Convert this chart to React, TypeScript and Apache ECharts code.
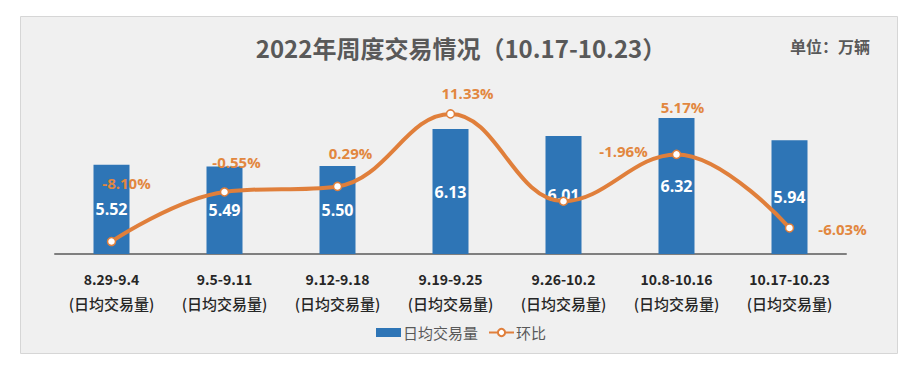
import React, { useEffect, useRef } from "react";
import * as echarts from "echarts";

const categories = ["8.29-9.4", "9.5-9.11", "9.12-9.18", "9.19-9.25", "9.26-10.2", "10.8-10.16", "10.17-10.23"];
const dailyVolume = [5.52, 5.49, 5.5, 6.13, 6.01, 6.32, 5.94];
const momChange = [-8.1, -0.55, 0.29, 11.33, -1.96, 5.17, -6.03];
const labelOffsets = [[15, -59], [12, -30], [13, -33], [17, -21], [60, -50], [6, -47], [53, 1]];

const FONT = "'Open Sans', 'Noto Sans CJK SC', sans-serif";
const CJK = "'Noto Sans CJK SC', sans-serif";
const BLUE = "#2E75B6";
const ORANGE = "#E07F3B";
const LABEL_ORANGE = "#E2873F";

export default function App() {
  const ref = useRef<HTMLDivElement>(null);
  useEffect(() => {
    if (!ref.current) return;
    const chart = echarts.init(ref.current, undefined, { renderer: "svg" });
    chart.setOption({
      animation: false,
      backgroundColor: "#ffffff",
      title: [
        {
          text: "2022年周度交易情况（10.17-10.23）",
          left: "center",
          top: 30,
          textStyle: { fontFamily: CJK, fontSize: 24, fontWeight: "bold", color: "#595959" },
        },
        {
          text: "单位：万辆",
          left: 785,
          top: 33,
          textStyle: { fontFamily: CJK, fontSize: 16, fontWeight: "bold", color: "#595959" },
        },
      ],
      graphic: [
        {
          type: "rect",
          z: -1,
          shape: { x: 20.5, y: 16.5, width: 877, height: 337 },
          style: { fill: "#f0f0f0", stroke: "#d6d6d6", lineWidth: 1 },
        },
      ],
      legend: {
        bottom: 37,
        left: "center",
        itemWidth: 25,
        itemHeight: 9,
        itemGap: 10,
        textStyle: { fontFamily: CJK, fontSize: 15, color: "#595959", padding: [0, 0, 0, -3] },
        data: [
          { name: "日均交易量", icon: "rect" },
          { name: "环比" },
        ],
      },
      grid: { left: 55, right: 76, top: 78, bottom: 128 },
      xAxis: {
        type: "category",
        data: categories,
        axisTick: { show: false },
        axisLine: { onZero: false, lineStyle: { color: "#7f7f7f", width: 2 } },
        axisLabel: {
          interval: 0,
          margin: 12,
          formatter: (v: string) => `{a|${v}}\n{b|(日均交易量)}`,
          rich: {
            a: { fontFamily: CJK, fontSize: 14, fontWeight: "bold", color: "#262626", lineHeight: 25 },
            b: { fontFamily: CJK, fontSize: 15, fontWeight: 500, color: "#262626", lineHeight: 25 },
          },
        },
      },
      yAxis: [
        { type: "value", min: 4, max: 7, show: false, splitLine: { show: false } },
        { type: "value", min: -10, max: 16.8, show: false, splitLine: { show: false } },
      ],
      series: [
        {
          name: "日均交易量",
          type: "bar",
          data: dailyVolume,
          barWidth: 36,
          itemStyle: { color: BLUE },
          label: {
            show: true,
            position: "inside",
            formatter: (p: any) => p.value.toFixed(2),
            fontFamily: FONT,
            fontSize: 16,
            fontWeight: "bold",
            color: "#ffffff",
          },
        },
        {
          name: "环比",
          type: "line",
          yAxisIndex: 1,
          smooth: 0.4,
          z: 5,
          data: momChange.map((v, i) => ({
            value: v,
            label: { offset: labelOffsets[i] },
          })),
          lineStyle: { color: ORANGE, width: 4 },
          itemStyle: { color: "#ffffff", borderColor: ORANGE, borderWidth: 1.5 },
          symbol: "circle",
          symbolSize: 8,
          label: {
            show: true,
            position: "inside",
            formatter: (p: any) => p.value.toFixed(2) + "%",
            fontFamily: FONT,
            fontSize: 15,
            fontWeight: "bold",
            color: LABEL_ORANGE,
          },
        },
      ],
    });
    return () => chart.dispose();
  }, []);
  return (
    <div style={{ position: "fixed", left: 0, top: 0, width: 922, height: 382 }}>
      <div ref={ref} style={{ width: 922, height: 382 }} />
    </div>
  );
}
